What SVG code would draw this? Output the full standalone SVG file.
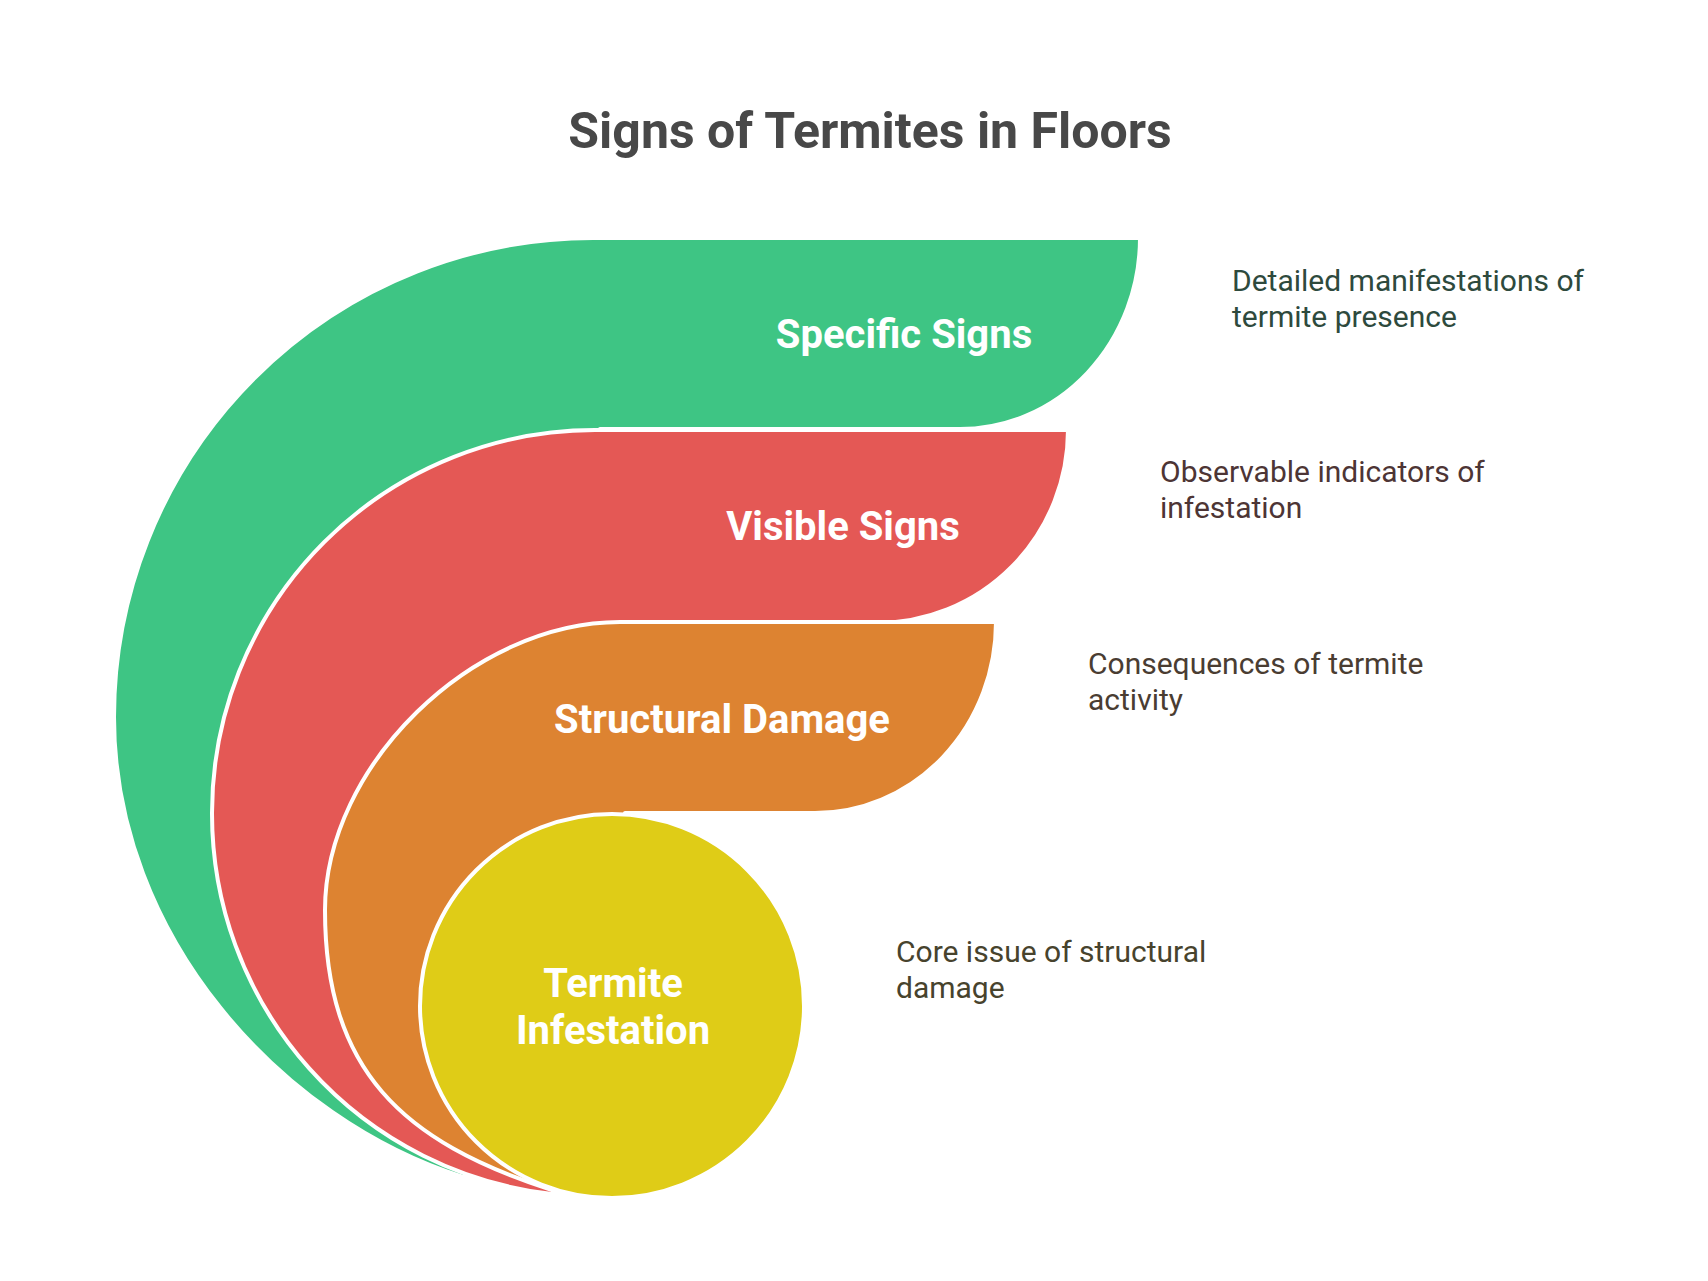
<svg xmlns="http://www.w3.org/2000/svg" width="1708" height="1281" viewBox="0 0 1708 1281">
<style>
.shape{stroke:#ffffff;stroke-width:4;stroke-linejoin:round}
.lbl{font-family:Roboto,"Liberation Sans",sans-serif;font-weight:700;font-size:40px;fill:#ffffff;text-anchor:middle}
.desc{font-family:Roboto,"Liberation Sans",sans-serif;font-size:30px}
.title{font-family:Roboto,"Liberation Sans",sans-serif;font-weight:700;font-size:50px;fill:#484848;text-anchor:middle}
</style>
<rect width="1708" height="1281" fill="#ffffff"/>
<text class="title" x="870" y="148">Signs of Termites in Floors</text>
<g id="specific-signs">
<path class="shape" fill="#3ec584" d="M593,238 H1140 A180 191 0 0 1 960,429 H600 L560,1100 L463,1177 C282,1120 114,937 114,717 A479 479 0 0 1 593,238 Z"/>
<text class="lbl" x="904" y="348">Specific Signs</text>
<text class="desc" fill="#2e4a3d" x="1232" y="291">Detailed manifestations of</text>
<text class="desc" fill="#2e4a3d" x="1232" y="327">termite presence</text>
</g>
<g id="visible-signs">
<path class="shape" fill="#e45855" d="M595,430 H1068 A191 193 0 0 1 877,623 H610 L578,1150 L552,1194 A383 383 0 0 1 212,813 A383 383 0 0 1 595,430 Z"/>
<text class="lbl" x="843" y="540">Visible Signs</text>
<text class="desc" fill="#4d3535" x="1160" y="482">Observable indicators of</text>
<text class="desc" fill="#4d3535" x="1160" y="518">infestation</text>
</g>
<g id="structural-damage">
<path class="shape" fill="#dd8331" d="M620,622 H996 A181 191 0 0 1 815,813 H625 L590,1150 L552,1190 C402,1142 325,1070 325,910 C325,766 472,622 620,622 Z"/>
<text class="lbl" x="722" y="733">Structural Damage</text>
<text class="desc" fill="#4a3d32" x="1088" y="674">Consequences of termite</text>
<text class="desc" fill="#4a3d32" x="1088" y="710">activity</text>
</g>
<g id="termite-infestation">
<circle class="shape" fill="#dfcc17" cx="612" cy="1006" r="192"/>
<text class="lbl" x="613" y="997">Termite</text>
<text class="lbl" x="613" y="1044">Infestation</text>
<text class="desc" fill="#47432d" x="896" y="962">Core issue of structural</text>
<text class="desc" fill="#47432d" x="896" y="998">damage</text>
</g>
<g id="connectors"></g>
</svg>
